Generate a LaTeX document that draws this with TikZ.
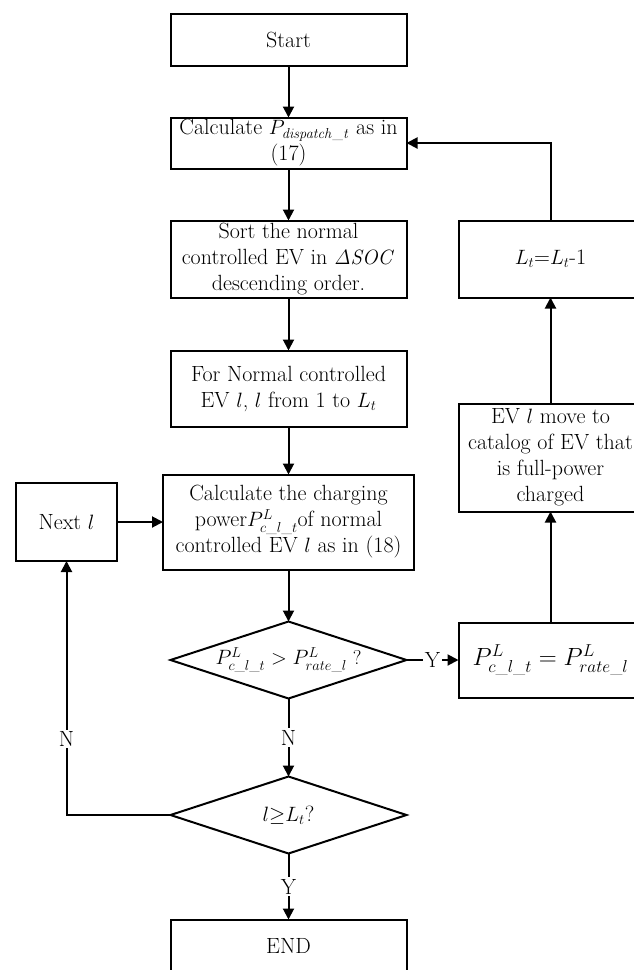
\documentclass[tikz,border=0pt]{standalone}
\usepackage{amsmath}
\usetikzlibrary{positioning,shapes.geometric,arrows.meta}

\begin{document}
\begin{tikzpicture}[x=1pt,y=1pt,
	font=\fontsize{22}{26}\selectfont,
	line width=2pt,
	>={Triangle[length=11pt,width=11pt]},
	box/.style={draw,rectangle,align=center,minimum width=236pt,
		inner xsep=2pt,inner ysep=0pt,outer sep=0pt},
	decision/.style={draw,diamond,aspect=3,align=center,inner sep=0pt,outer sep=0pt,
		minimum width=236pt,minimum height=77pt},
	lbl/.style={fill=white,inner sep=1.5pt}]
	\useasboundingbox (0,0) rectangle (633,-970);
	% main column
	\node [box,minimum height=52pt] (start) at (288.5,-39.5) {Start};
	\node [box,minimum height=51pt,below=52pt of start] (disp)
		{Calculate $P_{\mathit{dispatch\_t}}$ as in\\(17)};
	\node [box,minimum height=77pt,below=52pt of disp] (sort)
		{Sort the normal\\controlled EV in $\mathit{\Delta SOC}$\\descending order.};
	\node [box,minimum height=76pt,below=53pt of sort] (fornorm)
		{For Normal controlled\\EV $l$, $l$ from 1 to $L_t$};
	\node [box,minimum width=251pt,minimum height=95pt,below=48pt of fornorm] (calc)
		{Calculate the charging\\power$P^{L}_{c\_l\_t}$of normal\\controlled EV $l$ as in (18)};
	\node [decision,font=\fontsize{20}{24}\selectfont,below=52pt of calc] (dec1)
		{$P^{L}_{c\_l\_t} > P^{L}_{rate\_l}$ ?};
	\node [decision,below=78pt of dec1] (dec2) {$l{\geq}L_t$?};
	\node [box,minimum height=52pt,below=66pt of dec2] (end) {END};
	% side boxes
	\node [box,minimum width=101pt,minimum height=78pt,left=46pt of calc] (nextl) {Next $l$};
	\node [box,minimum width=184pt,minimum height=77pt,right=52pt of sort] (lt)
		{$L_t$=$L_t$-1};
	\node [box,font=\fontsize{25}{28}\selectfont,minimum width=184pt,minimum height=75pt,
		right=52pt of dec1] (peq)
		{$P^{L}_{c\_l\_t} = P^{L}_{rate\_l}$};
	\node [box,minimum width=184pt,minimum height=108pt,above=111pt of peq] (move)
		{EV $l$ move to\\catalog of EV that\\is full-power\\charged};
	% connectors
	\draw [->] (start) to (disp);
	\draw [->] (disp) to (sort);
	\draw [->] (sort) to (fornorm);
	\draw [->] (fornorm) to (calc);
	\draw [->] (calc) to (dec1);
	\draw [->] (dec1) to node [lbl] {N} (dec2);
	\draw [->] (dec2) to node [lbl] {Y} (end);
	\draw [->] (dec1.east) to node [lbl] {Y} (peq.west);
	\draw [->] (peq) to (move);
	\draw [->] (move) to (lt);
	\draw [->] (lt.north) |- (disp.east);
	\draw [->] (dec2.west) -| node [lbl,pos=0.65] {N} (nextl.south);
	\draw [->] (nextl) to (calc);
\end{tikzpicture}
\end{document}
